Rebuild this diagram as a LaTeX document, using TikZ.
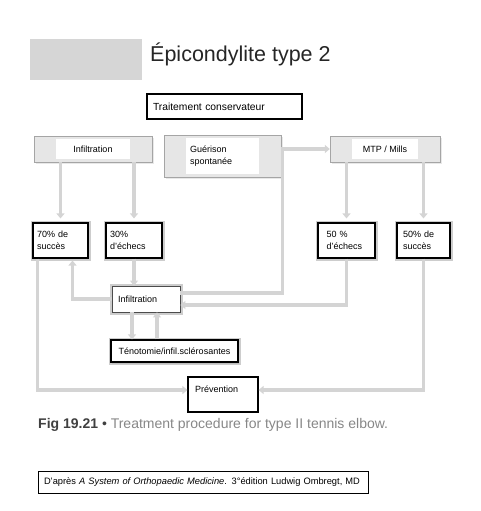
\documentclass[tikz,border=0pt]{standalone}
\usepackage{fontspec}
\setmainfont{Liberation Sans}
\usetikzlibrary{arrows.meta,calc,shadows}
\definecolor{band}{RGB}{214,214,214}
\definecolor{boxfill}{RGB}{230,230,230}
\definecolor{boxedge}{RGB}{165,165,165}
\definecolor{linegray}{RGB}{212,212,212}
\definecolor{halo}{RGB}{205,205,205}
\definecolor{capgray}{RGB}{135,135,135}
\tikzset{
  box/.style={align=left,font=\fontsize{9}{11.5}\selectfont,inner sep=0pt},
  gbox/.style={box,draw=boxedge,fill=boxfill,
    drop shadow={opacity=0.18,shadow xshift=1.5pt,shadow yshift=-1.5pt},
    path picture={\fill[white] ([xshift=22pt,yshift=-3pt]path picture bounding box.north west)
      rectangle ([xshift=-22pt,yshift=3pt]path picture bounding box.south east);}},
  kbox/.style={box,draw=black,line width=1.1pt,fill=white},
  hbox/.style={kbox,preaction={draw=halo,line width=5pt}},
  flow/.style={-{Triangle[width=8pt,length=5pt]},line width=3.5pt,draw=linegray},
  link/.style={line width=3.5pt,draw=linegray},
}

\begin{document}
\begin{tikzpicture}[x=1pt,y=-1pt]
  \useasboundingbox (0,0) rectangle (480,511);

  % heading
  \node[fill=band,minimum width=112pt,minimum height=41pt,inner sep=0pt] (band) at (86,59.5) {};
  \node[anchor=base west,inner sep=0pt,font=\fontsize{21.5}{24}\selectfont,text=black!85] (title) at (150,62) {Épicondylite type 2};

  \node[kbox,font=\fontsize{10.3}{12}\selectfont,minimum width=155pt,minimum height=25pt,text width=143pt] (cons) at (224.5,106.5) {Traitement conservateur};

  % first line of treatments
  \node[gbox,minimum width=118pt,minimum height=26pt] (infA) at (93,149) {Infiltration};
  \node[gbox,minimum width=117pt,minimum height=42pt,text width=65pt] (guer) at (222.5,156) {Guérison\\spontanée};
  \node[gbox,minimum width=110pt,minimum height=26pt] (mtp) at (385,149) {MTP / Mills};

  % results
  \node[hbox,minimum width=55pt,minimum height=35pt,text width=47pt] (ok70) at (60.5,240.5) {70\% de\\succès};
  \node[hbox,minimum width=56pt,minimum height=35pt,text width=48pt] (ko30) at (134,240.5) {30\%\\d'échecs};
  \node[hbox,minimum width=57pt,minimum height=35pt,text width=40pt] (ko50) at (346.5,240.5) {50 \%\\d'échecs};
  \node[hbox,minimum width=53pt,minimum height=35pt,text width=41pt] (ok50) at (423.5,240.5) {50\% de\\succès};

  \node[hbox,line width=0.7pt,draw=black!70,minimum width=68pt,minimum height=26pt,text width=56pt] (infB) at (146,299) {Infiltration};
  \node[hbox,drop shadow={opacity=0.2,shadow xshift=1pt,shadow yshift=-2pt},minimum width=127pt,minimum height=22pt] (teno) at (174.5,351) {Ténotomie/infil.sclérosantes};
  \node[kbox,minimum width=70pt,text width=56pt,inner ysep=8pt,text height=7pt,text depth=12pt] (prev) at (223,394.5) {Prévention};

  % caption and source
  \node[anchor=base west,inner sep=0pt,font=\fontsize{14}{16}\selectfont,text=capgray] (cap) at (38,428)
    {\textcolor{black!75}{\textbf{Fig 19.21} •} Treatment procedure for type II tennis elbow.};
  \node[kbox,line width=0.9pt,font=\fontsize{9.3}{11}\selectfont,minimum width=330pt,minimum height=22pt,text width=318pt] (cite) at (203,482)
    {D'après \textit{A System of Orthopaedic Medicine}. 3°édition Ludwig Ombregt, MD};

  % connectors
  \draw[flow,shorten >=4pt] (infA.south -| ok70.north) -- (ok70.north);
  \draw[flow,shorten >=4pt] (infA.south -| ko30.north) -- (ko30.north);
  \draw[flow,shorten >=4pt] (mtp.south -| ko50.north) -- (ko50.north);
  \draw[flow,shorten >=4pt] (mtp.south -| ok50.north) -- (ok50.north);
  \draw[flow] (guer.east |- mtp.west) -- (mtp.west);
  \draw[link] ([xshift=1.5pt]guer.east |- mtp.west) |- ([yshift=6pt]infB.east);
  \draw[flow] (ko50.south) |- ([yshift=-6pt]infB.east);
  \draw[flow] (ko30.south) -- (ko30.south |- infB.north);
  \draw[flow,shorten >=2pt] (infB.west) -| ([xshift=12pt]ok70.south);
  \draw[flow] ([xshift=-23pt]ok70.south) |- ([yshift=4.5pt]prev.west);
  \draw[flow] (ok50.south) |- ([yshift=4.5pt]prev.east);
  \draw[flow] ([xshift=-14pt]infB.south) -- ([xshift=-14pt]infB.south |- teno.north);
  \draw[flow] ([xshift=11pt]infB.south |- teno.north) -- ([xshift=11pt]infB.south);
\end{tikzpicture}
\end{document}
